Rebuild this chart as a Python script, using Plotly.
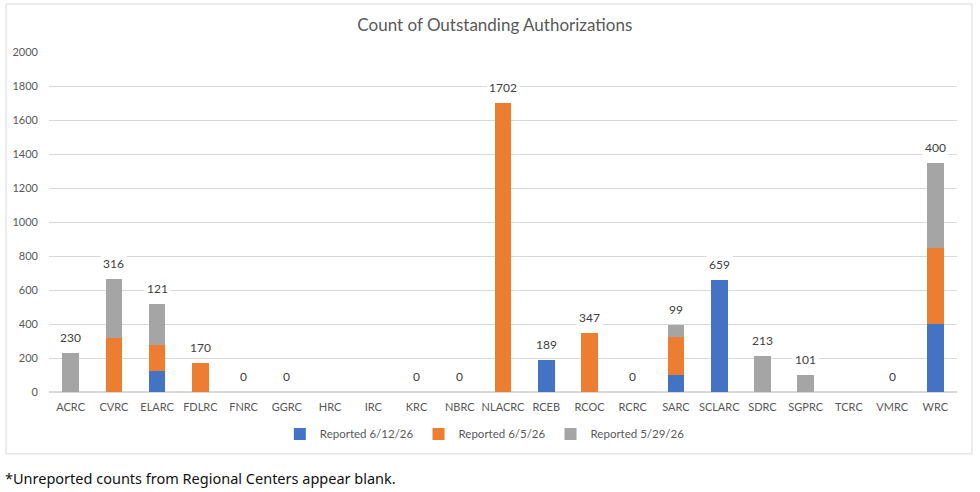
import plotly.graph_objects as go

categories = ["ACRC", "CVRC", "ELARC", "FDLRC", "FNRC", "GGRC", "HRC", "IRC", "KRC", "NBRC",
              "NLACRC", "RCEB", "RCOC", "RCRC", "SARC", "SCLARC", "SDRC", "SGPRC", "TCRC", "VMRC", "WRC"]
reported_0612 = [None, None, 121, None, 0, 0, None, None, 0, 0,
                 None, 189, None, 0, 99, 659, None, None, None, 0, 400]
reported_0605 = [None, 316, 154, 170, None, None, None, None, None, None,
                 1702, None, 347, None, 223, None, None, None, None, None, 447]
reported_0529 = [230, 350, 242, None, None, None, None, None, None, None,
                 None, None, None, None, 71, None, 213, 101, None, None, 500]
series_names = ["Reported 6/12/26", "Reported 6/5/26", "Reported 5/29/26"]
colors = ["#4472C4", "#ED7D31", "#A5A5A5"]
y_ticks = [0, 200, 400, 600, 800, 1000, 1200, 1400, 1600, 1800, 2000]

FONT = "Lato"
GREY_TXT = "#595959"

fig = go.Figure()
for name, vals, col in zip(series_names, [reported_0612, reported_0605, reported_0529], colors):
    fig.add_trace(go.Bar(x=categories, y=vals, name=name, marker=dict(color=col, line=dict(width=0)),
                         hoverinfo="x+y+name"))

# labels: most recent reported value, placed above stack
for i, c in enumerate(categories):
    vals = [reported_0612[i], reported_0605[i], reported_0529[i]]
    present = [v for v in vals if v is not None]
    if not present:
        continue
    latest = present[0]
    total = sum(present)
    fig.add_annotation(x=c, y=total, text=str(latest), showarrow=False, yanchor="bottom",
                       yshift=5, bgcolor="white", borderpad=2,
                       font=dict(family=FONT, size=12, color="#404040"))

# outer chart border
fig.add_shape(type="rect", xref="paper", yref="paper", x0=-0.0473, x1=1.0165, y0=-0.182, y1=1.141,
              line=dict(color="#D9D9D9", width=1), fillcolor="rgba(0,0,0,0)", layer="below")

fig.add_annotation(xref="paper", yref="paper", x=(1 - 47) / 910, y=(392 - 478) / 340,
                   xanchor="left", yanchor="middle", showarrow=False,
                   text="*Unreported counts from Regional Centers appear blank.",
                   font=dict(family="Noto Sans", size=14.5, color="#111111"))

fig.update_layout(
    barmode="stack",
    bargap=0.615,
    width=980, height=492,
    margin=dict(l=47, r=23, t=52, b=100),
    paper_bgcolor="white", plot_bgcolor="white",
    title=dict(text="Count of Outstanding Authorizations", x=0.491, xref="paper", y=0.949, yanchor="middle",
               font=dict(family=FONT, size=17, color=GREY_TXT)),
    legend=dict(orientation="h", x=0.48, xanchor="center", y=-0.1235, yanchor="middle",
                font=dict(family=FONT, size=11.5, color=GREY_TXT), itemwidth=30, traceorder="normal",
                itemsizing="constant"),
    font=dict(family=FONT, color=GREY_TXT),
    showlegend=True,
)
fig.update_yaxes(range=[0, 2000], tickvals=y_ticks, showgrid=True, gridcolor="#D9D9D9", gridwidth=1,
                 zeroline=True, zerolinecolor="#D9D9D9", showline=False, ticks="",
                 tickfont=dict(family=FONT, size=11, color=GREY_TXT), ticklabelstandoff=10)
fig.update_xaxes(showline=False, ticks="", tickfont=dict(family=FONT, size=11, color=GREY_TXT),
                 ticklabelstandoff=7)

fig.write_html("out.html")
